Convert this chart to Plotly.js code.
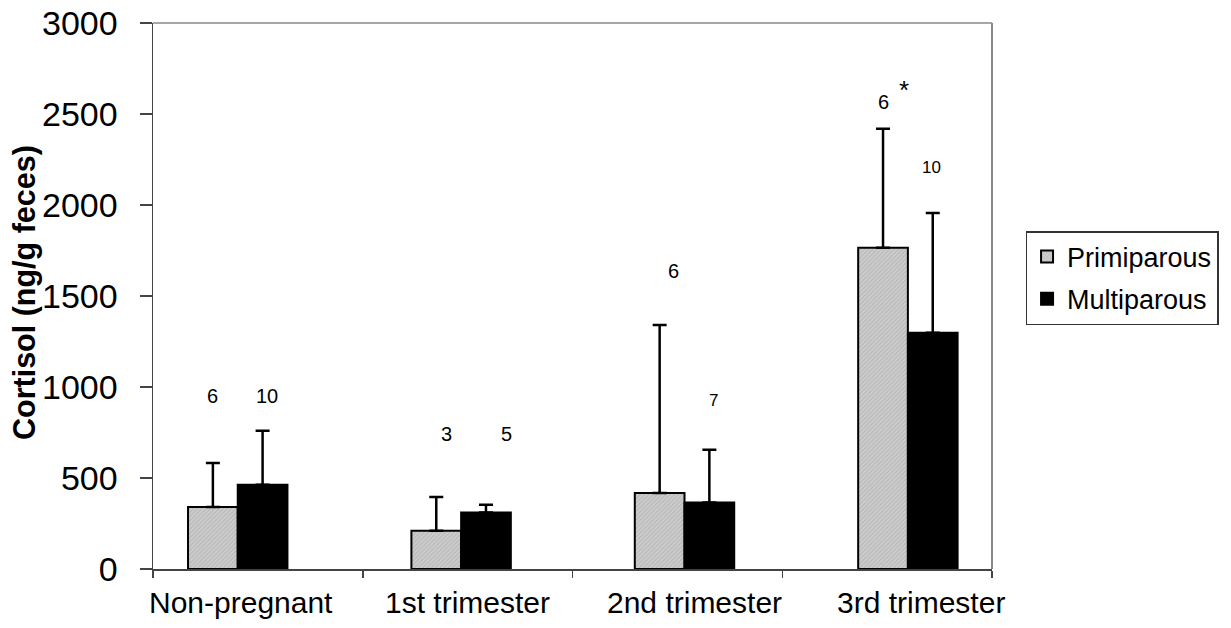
<!DOCTYPE html>
<html>
<head>
<meta charset="utf-8">
<script src="https://cdn.plot.ly/plotly-3.0.1.min.js"></script>
<style>html,body{margin:0;padding:0;background:#fff;}#chart{width:1231px;height:628px;}</style>
</head>
<body>
<div id="chart"></div>
<script>
// ---- data ----
const categories = ["Non-pregnant", "1st trimester", "2nd trimester", "3rd trimester"];
const primiparous = [341, 210, 418, 1765];
const primiparousErr = [241, 186, 923, 654];
const multiparous = [463, 311, 366, 1298];
const multiparousErr = [297, 42, 289, 658];
const primN = ["6", "3", "6", "6"];
const primNY = [952, 744, 1640, 2567];
const multN = ["10", "5", "7", "10"];
const multNY = [952, 744, 925, 2205];
const significance = ["", "", "", "*"];
const significanceY = [0, 0, 0, 2633];
const yTicks = [0, 500, 1000, 1500, 2000, 2500, 3000];
const yTitle = "Cortisol (ng/g feces)";

// ---- style / placement ----
const FONT = "Liberation Sans, Arial, sans-serif";
const barWidth = 0.237;
const primOffset = categories.map((c, i) => -0.333 + 0.065 * i);
const multOffset = primOffset.map(o => o + barWidth);
const primLabelShift = [-45, -21, -4, -4];
const multLabelShift = [9, 39, 36, 44];
const starShift = [0, 0, 0, 17];
const catLabelShift = categories.map((c, i) => -17 + 17 * i);

const zeros = categories.map(() => 0);

const traces = [
  {
    type: "bar", name: "Primiparous", x: categories, y: primiparous,
    width: barWidth, offset: primOffset, legendgroup: "a",
    marker: {
      color: "#c4c4c4",
      line: {color: "#000", width: 2},
      pattern: {shape: "/", size: 3, solidity: 0.3, fgcolor: "#b2b2b2", bgcolor: "#cdcdcd"}
    },
    error_y: {type: "data", symmetric: false, array: primiparousErr, arrayminus: zeros, color: "#000", thickness: 2.5, width: 7}
  },
  {
    type: "bar", name: "Multiparous", x: categories, y: multiparous,
    width: barWidth, offset: multOffset, legendgroup: "b",
    marker: {color: "#000", line: {color: "#000", width: 2}},
    error_y: {type: "data", symmetric: false, array: multiparousErr, arrayminus: zeros, color: "#000", thickness: 2.5, width: 7}
  }
];

const annotations = [];
categories.forEach((c, i) => {
  annotations.push({x: c, y: primNY[i], xref: "x", yref: "y", text: primN[i], showarrow: false, xshift: primLabelShift[i],
    font: {family: FONT, size: 20, color: "#000"}});
  annotations.push({x: c, y: multNY[i], xref: "x", yref: "y", text: multN[i], showarrow: false, xshift: multLabelShift[i],
    font: {family: FONT, size: (i >= 2 ? 17 : 20), color: "#000"}});
  if (significance[i]) {
    annotations.push({x: c, y: significanceY[i], xref: "x", yref: "y", text: significance[i], showarrow: false, xshift: starShift[i],
      font: {family: FONT, size: 26, color: "#000"}});
  }
  annotations.push({x: c, y: 0, xref: "x", yref: "paper", text: c, showarrow: false, xshift: catLabelShift[i], yshift: -33,
    yanchor: "middle", font: {family: FONT, size: 30, color: "#000"}});
});
annotations.push({x: 0, y: 0.5, xref: "paper", yref: "paper", text: yTitle, showarrow: false, textangle: -90,
  xanchor: "center", yanchor: "middle", xshift: -129, yshift: 3,
  font: {family: FONT, size: 30.5, color: "#000", weight: "bold"}});

const layout = {
  width: 1231, height: 628,
  margin: {l: 153, r: 236, t: 23, b: 59},
  paper_bgcolor: "#fff", plot_bgcolor: "#fff",
  barmode: "overlay",
  showlegend: true,
  legend: {
    x: 1.04, y: 0.619, xanchor: "left", yanchor: "top",
    bordercolor: "#333", borderwidth: 1.5, bgcolor: "#fff",
    font: {family: FONT, size: 27, color: "#000"},
    itemwidth: 30, tracegroupgap: 4
  },
  xaxis: {
    type: "category", tickson: "boundaries", ticks: "outside", ticklen: 7, tickcolor: "#444", tickwidth: 1.5,
    showline: true, linecolor: "#444", linewidth: 1.5, showgrid: false, zeroline: false,
    showticklabels: false, range: [-0.5, 3.5],
    fixedrange: true
  },
  yaxis: {
    range: [0, 3000], tickvals: yTicks, ticktext: yTicks.map(String), ticks: "outside", ticklen: 12, tickcolor: "#444", tickwidth: 1.5,
    showline: true, linecolor: "#444", linewidth: 1.5, showgrid: false, zeroline: false,
    ticklabelstandoff: 15,
    tickfont: {family: FONT, size: 34, color: "#000"},
    fixedrange: true
  },
  shapes: [
    {type: "line", xref: "paper", yref: "paper", x0: 0, x1: 1, y0: 1, y1: 1, line: {color: "#888", width: 1.5}},
    {type: "line", xref: "paper", yref: "paper", x0: 1, x1: 1, y0: 0, y1: 1, line: {color: "#888", width: 2}}
  ],
  annotations: annotations
};

Plotly.newPlot("chart", traces, layout, {displayModeBar: false, staticPlot: true});
</script>
</body>
</html>
